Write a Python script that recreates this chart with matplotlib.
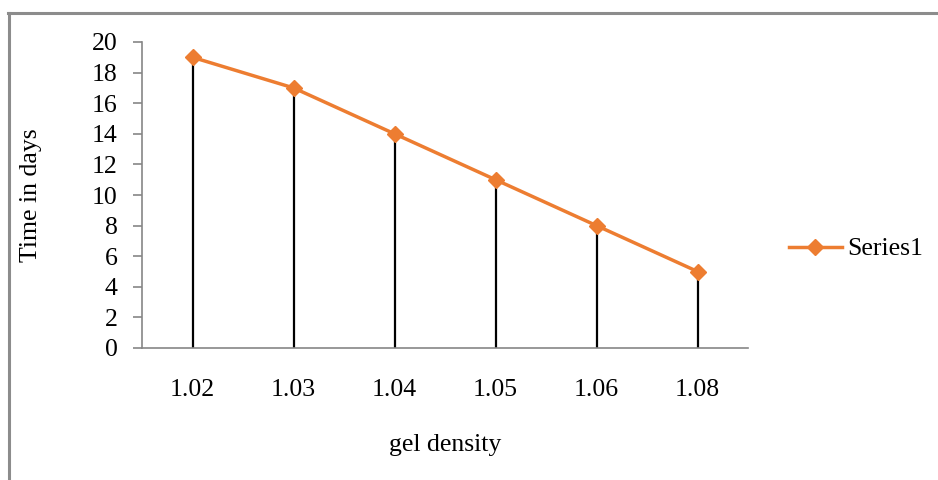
import numpy as np
import matplotlib
matplotlib.use("Agg")
import matplotlib.pyplot as plt
from matplotlib.lines import Line2D

# ── Data ─────────────────────────────────────────────────────────────────────
categories = ["1.02", "1.03", "1.04", "1.05", "1.06", "1.08"]
time_days = [19, 17, 14, 11, 8, 5]
y_ticks = list(range(0, 21, 2))

ORANGE = "#ED7D31"
GRAY = "#868686"
FS = 18.5

plt.rcParams["font.family"] = ["Liberation Serif", "DejaVu Serif"]

fig = plt.figure(figsize=(9.38, 4.8), dpi=100)
ax = fig.add_axes([142 / 938, 1 - 348 / 480, 606 / 938, 306 / 480])

x = np.arange(len(categories)) + 0.5
# drop lines from each point to the category axis
ax.vlines(x, 0, time_days, color="black", lw=1.6, zorder=2)
ax.plot(x, time_days, color=ORANGE, lw=2.5, marker="D", ms=8.5,
        mec=ORANGE, mfc=ORANGE, zorder=3, label="Series1")

ax.set_xlim(0, len(categories))
ax.set_ylim(0, 20)
ax.set_xticks(x)
ax.set_xticklabels(categories)
ax.set_yticks(y_ticks)

for side in ["top", "right"]:
    ax.spines[side].set_visible(False)
for side in ["left", "bottom"]:
    ax.spines[side].set_color(GRAY)
    ax.spines[side].set_linewidth(1.2)

ax.tick_params(axis="y", direction="out", length=6.5, width=1.2, color=GRAY,
               labelsize=FS, pad=11)
ax.tick_params(axis="x", length=0, labelsize=FS, pad=22)

ax.set_xlabel("gel density", fontsize=FS, labelpad=24)
ax.set_ylabel("Time in days", fontsize=FS, labelpad=36)

ax.legend(loc="center left", bbox_to_anchor=(789 / 938, 1 - 249 / 480),
          bbox_transform=fig.transFigure, frameon=False, fontsize=FS,
          handlelength=2.06, handletextpad=0.2, borderpad=0, borderaxespad=0)

# outer chart frame (only left and top edges fall inside the picture)
fig.add_artist(Line2D([8.5 / 938, 8.5 / 938], [0, 1 - 13 / 480],
                      transform=fig.transFigure, color="#8C8C8C", lw=2.2))
fig.add_artist(Line2D([7.5 / 938, 1], [1 - 13 / 480, 1 - 13 / 480],
                      transform=fig.transFigure, color="#8C8C8C", lw=2.2))

fig.savefig("out.png", dpi=100)
